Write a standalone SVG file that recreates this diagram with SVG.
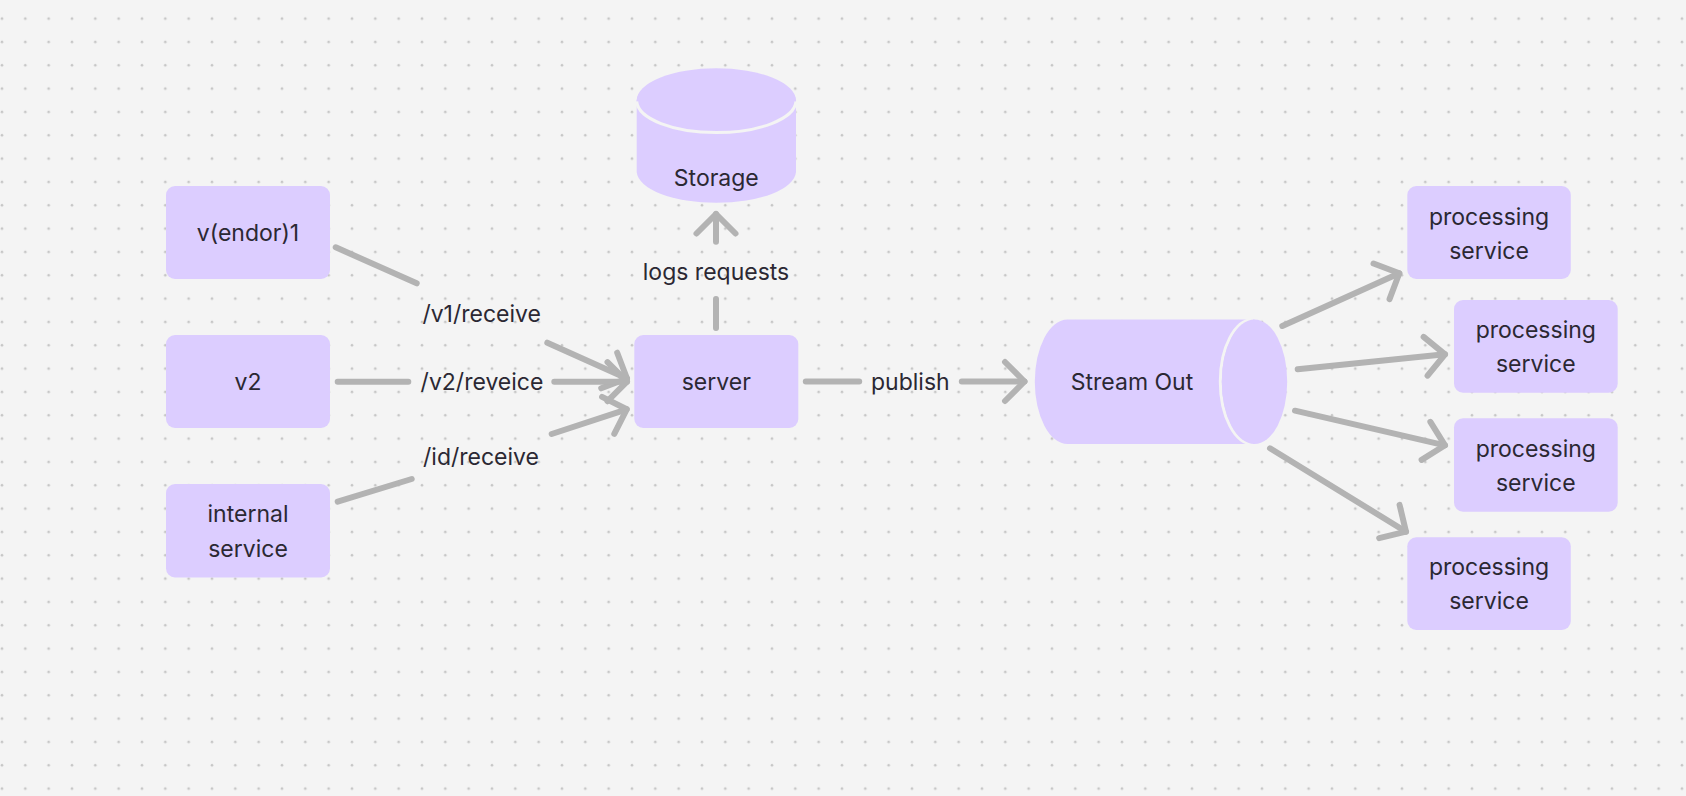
<svg xmlns="http://www.w3.org/2000/svg" width="1686" height="796" viewBox="0 0 1686 796">
  <defs>
    <pattern id="dots" patternUnits="userSpaceOnUse" x="0" y="0" width="23.333" height="23.333">
      <circle cx="2" cy="18.67" r="1.3" fill="#c6c6c6"/>
    </pattern>
    <marker id="arrow" markerUnits="userSpaceOnUse" viewBox="-30 -30 40 60" markerWidth="40" markerHeight="60" refX="0" refY="0" orient="auto" overflow="visible">
      <path d="M -19.5 -19.5 L 0 0 L -19.5 19.5" fill="none" stroke="#b3b3b3" stroke-width="6" stroke-linecap="round" stroke-linejoin="round"/>
    </marker>
    <style>
      .box { fill: #dccdff; }
      .t { font-family: Inter, "Noto Sans", "Liberation Sans", sans-serif; font-size: 23px; fill: #2b2833; text-anchor: middle; }
      .edge { fill: none; stroke: #b3b3b3; stroke-width: 6; stroke-linecap: round; }
      .sep { fill: none; stroke: #f4f4f4; stroke-width: 3; }
    </style>
  </defs>
  <rect width="1686" height="796" fill="#f4f4f4"/>
  <rect width="1686" height="796" fill="url(#dots)"/>

  <g id="connectors">
    <line class="edge" x1="335.7" y1="247.3" x2="416.7" y2="283.3"/>
    <text class="t" x="481.7" y="314" dy="0.35em">/v1/receive</text>
    <line class="edge" x1="547.3" y1="342.7" x2="627" y2="378.5" marker-end="url(#arrow)"/>

    <line class="edge" x1="337.7" y1="381.7" x2="408.3" y2="381.7"/>
    <text class="t" x="482" y="381.7" dy="0.35em">/v2/reveice</text>
    <line class="edge" x1="554.3" y1="381.7" x2="627" y2="381.7" marker-end="url(#arrow)"/>

    <line class="edge" x1="337.7" y1="501.7" x2="411.7" y2="479"/>
    <text class="t" x="481" y="456.7" dy="0.35em">/id/receive</text>
    <line class="edge" x1="551.7" y1="434" x2="626.7" y2="409.3" marker-end="url(#arrow)"/>

    <line class="edge" x1="716" y1="328" x2="716" y2="299"/>
    <text class="t" x="716" y="271.7" dy="0.35em">logs requests</text>
    <line class="edge" x1="716" y1="241.7" x2="716" y2="214" marker-end="url(#arrow)"/>

    <line class="edge" x1="805.8" y1="381.5" x2="859.2" y2="381.5"/>
    <text class="t" x="910.3" y="381.5" dy="0.35em">publish</text>
    <line class="edge" x1="961.8" y1="381.5" x2="1024.5" y2="381.5" marker-end="url(#arrow)"/>

    <line class="edge" x1="1282.3" y1="326" x2="1399.3" y2="273.3" marker-end="url(#arrow)"/>
    <line class="edge" x1="1297.7" y1="369.3" x2="1445" y2="354.3" marker-end="url(#arrow)"/>
    <line class="edge" x1="1295" y1="410.7" x2="1445" y2="445.3" marker-end="url(#arrow)"/>
    <line class="edge" x1="1270" y1="448.3" x2="1406" y2="531.7" marker-end="url(#arrow)"/>
  </g>

  <g id="vendor1">
    <rect class="box" x="166" y="186" width="164" height="93" rx="9"/>
    <text class="t" x="248" y="232.5" dy="0.35em">v(endor)1</text>
  </g>
  <g id="v2">
    <rect class="box" x="166" y="335" width="164" height="93" rx="9"/>
    <text class="t" x="248" y="381.7" dy="0.35em">v2</text>
  </g>
  <g id="internal-service">
    <rect class="box" x="166" y="484" width="164" height="93.5" rx="9"/>
    <text class="t" x="248" y="514" dy="0.35em">internal</text>
    <text class="t" x="248" y="549" dy="0.35em">service</text>
  </g>
  <g id="server">
    <rect class="box" x="634.3" y="335" width="164" height="93" rx="9"/>
    <text class="t" x="716.3" y="381.7" dy="0.35em">server</text>
  </g>
  <g id="storage">
    <path class="box" d="M 636.7 100.5 L 636.7 172 A 79.7 32 0 0 0 796 172 L 796 100.5 A 79.7 32 0 0 0 636.7 100.5 Z"/>
    <ellipse class="box" cx="716.3" cy="100.5" rx="79.7" ry="32.2"/>
    <path class="sep" d="M 636.7 101.5 A 79.7 32.2 0 0 0 796 101.5"/>
    <text class="t" x="716.3" y="177.7" dy="0.35em">Storage</text>
  </g>
  <g id="stream-out">
    <path class="box" d="M 1067.5 319.4 L 1254.5 319.4 L 1254.5 444 L 1067.5 444 A 32.7 62.3 0 0 1 1067.5 319.4 Z"/>
    <path class="sep" d="M 1253 319.4 A 32.7 62.3 0 0 0 1253 444"/>
    <ellipse class="box" cx="1254.5" cy="381.7" rx="32.7" ry="62.3"/>
    <text class="t" x="1132" y="381.7" dy="0.35em">Stream Out</text>
  </g>
  <g id="processing-1">
    <rect class="box" x="1407.3" y="186" width="163.5" height="93" rx="9"/>
    <text class="t" x="1489" y="216.5" dy="0.35em">processing</text>
    <text class="t" x="1489" y="250.5" dy="0.35em">service</text>
  </g>
  <g id="processing-2">
    <rect class="box" x="1454" y="300" width="163.7" height="92.7" rx="9"/>
    <text class="t" x="1535.8" y="330" dy="0.35em">processing</text>
    <text class="t" x="1535.8" y="364" dy="0.35em">service</text>
  </g>
  <g id="processing-3">
    <rect class="box" x="1454" y="418.3" width="163.7" height="93.4" rx="9"/>
    <text class="t" x="1535.8" y="448.5" dy="0.35em">processing</text>
    <text class="t" x="1535.8" y="482.5" dy="0.35em">service</text>
  </g>
  <g id="processing-4">
    <rect class="box" x="1407.3" y="537.3" width="163.5" height="92.7" rx="9"/>
    <text class="t" x="1489" y="567.3" dy="0.35em">processing</text>
    <text class="t" x="1489" y="601.3" dy="0.35em">service</text>
  </g>
</svg>
